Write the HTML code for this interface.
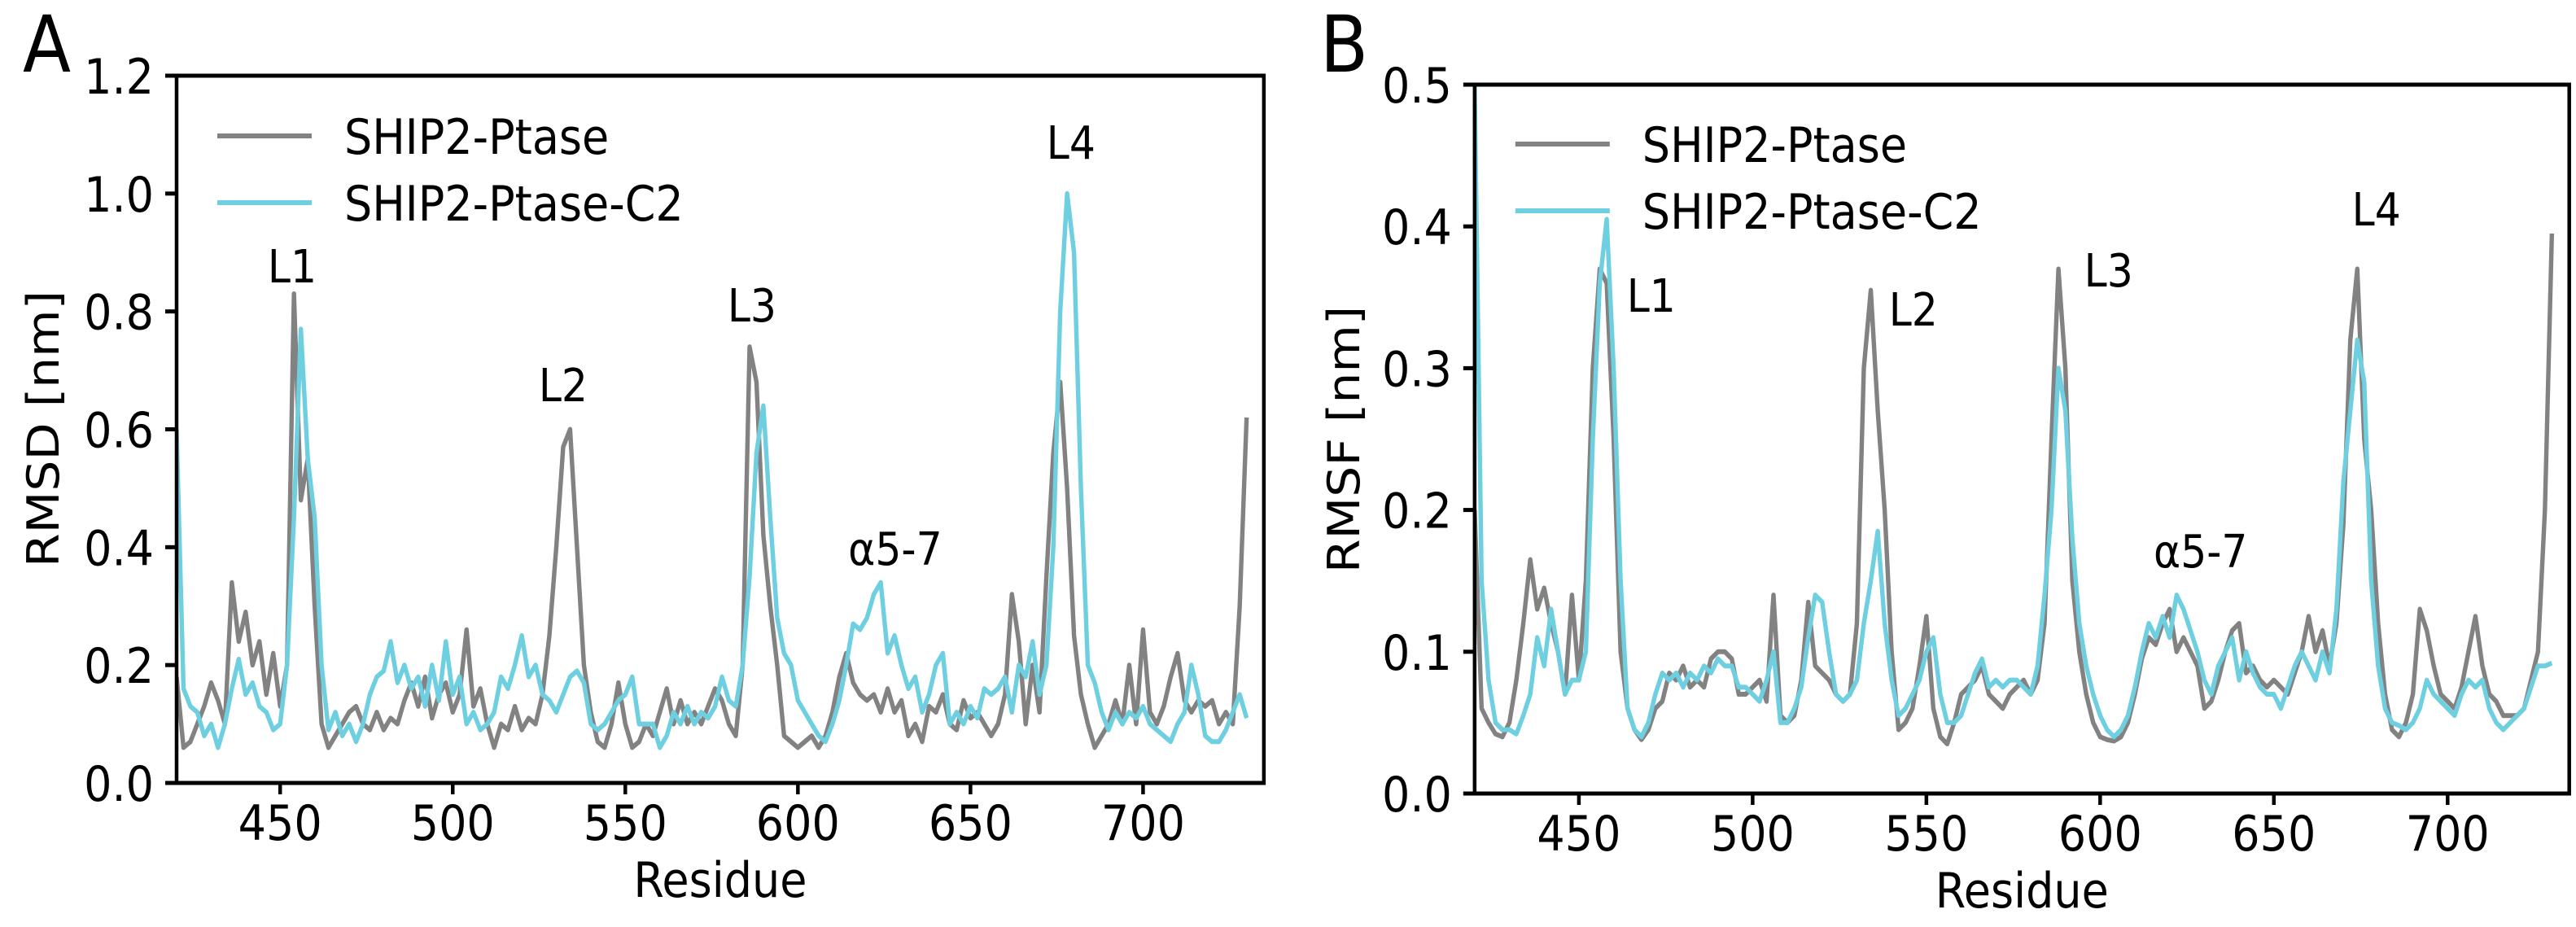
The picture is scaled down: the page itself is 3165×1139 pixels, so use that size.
<!DOCTYPE html>
<html><head><meta charset="utf-8"><style>
html,body{margin:0;padding:0;background:#fff;}
svg{display:block;}
text{font-family:"DejaVu Sans","Liberation Sans",sans-serif;fill:#000;}
</style></head>
<body>
<svg id="fig" width="3165" height="1139" viewBox="0 0 3517 1139" preserveAspectRatio="none" xmlns="http://www.w3.org/2000/svg"></svg>
<script>
const residues = [];
for (let r = 420; r <= 730; r += 2) residues.push(r);
const xTicks = [450, 500, 550, 600, 650, 700];
const xTickLabels = ["450", "500", "550", "600", "650", "700"];
const yTicksA = [0, 0.2, 0.4, 0.6, 0.8, 1.0, 1.2];
const yTickLabelsA = ["0.0", "0.2", "0.4", "0.6", "0.8", "1.0", "1.2"];
const yTicksB = [0, 0.1, 0.2, 0.3, 0.4, 0.5];
const yTickLabelsB = ["0.0", "0.1", "0.2", "0.3", "0.4", "0.5"];
const seriesNames = ["SHIP2-Ptase", "SHIP2-Ptase-C2"];

const rmsdPtase = [
0.18,0.06,0.07,0.10,0.13,0.17,0.14,0.10,0.34,0.24,
0.29,0.20,0.24,0.15,0.22,0.13,0.20,0.83,0.48,0.55,
0.30,0.10,0.06,0.08,0.10,0.12,0.13,0.10,0.09,0.12,
0.09,0.11,0.10,0.14,0.17,0.13,0.18,0.11,0.15,0.17,
0.12,0.15,0.26,0.13,0.16,0.10,0.06,0.10,0.09,0.13,
0.09,0.11,0.10,0.15,0.25,0.40,0.57,0.60,0.40,0.20,
0.12,0.07,0.06,0.10,0.17,0.10,0.06,0.07,0.10,0.08,
0.12,0.16,0.10,0.14,0.10,0.12,0.10,0.13,0.16,0.14,
0.10,0.08,0.20,0.74,0.68,0.42,0.30,0.20,0.08,0.07,
0.06,0.07,0.08,0.06,0.08,0.12,0.18,0.22,0.17,0.15,
0.14,0.15,0.12,0.16,0.12,0.14,0.08,0.10,0.07,0.13,
0.12,0.15,0.10,0.09,0.14,0.11,0.12,0.10,0.08,0.10,
0.15,0.32,0.24,0.10,0.20,0.12,0.35,0.56,0.68,0.50,
0.25,0.15,0.10,0.06,0.08,0.10,0.14,0.10,0.20,0.10,
0.26,0.12,0.10,0.13,0.18,0.22,0.14,0.12,0.14,0.13,
0.14,0.10,0.12,0.10,0.30,0.62];
const rmsdPtaseC2 = [
0.60,0.16,0.13,0.12,0.08,0.10,0.06,0.10,0.16,0.21,
0.15,0.17,0.13,0.12,0.09,0.10,0.20,0.45,0.77,0.55,
0.45,0.20,0.09,0.12,0.08,0.10,0.07,0.10,0.15,0.18,
0.19,0.24,0.17,0.20,0.16,0.18,0.13,0.20,0.14,0.24,
0.15,0.18,0.10,0.12,0.09,0.10,0.12,0.18,0.16,0.20,
0.25,0.18,0.20,0.15,0.14,0.12,0.15,0.18,0.19,0.17,
0.10,0.09,0.10,0.12,0.14,0.15,0.18,0.10,0.10,0.10,
0.06,0.08,0.12,0.10,0.13,0.10,0.12,0.11,0.13,0.18,
0.14,0.13,0.20,0.35,0.56,0.64,0.45,0.28,0.22,0.20,
0.14,0.12,0.10,0.08,0.07,0.10,0.14,0.20,0.27,0.26,
0.28,0.32,0.34,0.22,0.25,0.20,0.16,0.18,0.12,0.15,
0.20,0.22,0.10,0.12,0.10,0.13,0.11,0.16,0.15,0.16,
0.18,0.12,0.20,0.18,0.24,0.15,0.20,0.40,0.80,1.00,
0.90,0.50,0.20,0.17,0.12,0.09,0.12,0.10,0.12,0.11,
0.13,0.10,0.09,0.08,0.07,0.10,0.12,0.20,0.15,0.08,
0.07,0.07,0.09,0.12,0.15,0.11];
const rmsfPtase = [
0.20,0.06,0.05,0.042,0.04,0.05,0.08,0.12,0.165,0.13,
0.145,0.12,0.10,0.07,0.14,0.08,0.15,0.30,0.37,0.36,
0.25,0.10,0.06,0.045,0.038,0.045,0.06,0.065,0.085,0.08,
0.09,0.075,0.08,0.075,0.095,0.10,0.10,0.095,0.07,0.07,
0.075,0.08,0.065,0.14,0.055,0.05,0.055,0.08,0.135,0.09,
0.085,0.08,0.07,0.065,0.07,0.12,0.30,0.355,0.27,0.20,
0.10,0.045,0.05,0.06,0.09,0.125,0.06,0.04,0.035,0.05,
0.07,0.075,0.08,0.09,0.07,0.065,0.06,0.07,0.075,0.08,
0.07,0.08,0.12,0.25,0.37,0.30,0.15,0.10,0.07,0.05,
0.04,0.038,0.037,0.04,0.05,0.07,0.095,0.11,0.105,0.12,
0.13,0.10,0.11,0.10,0.09,0.06,0.065,0.08,0.10,0.115,
0.12,0.085,0.09,0.08,0.075,0.08,0.075,0.07,0.085,0.10,
0.125,0.10,0.115,0.09,0.12,0.19,0.32,0.37,0.25,0.20,
0.12,0.07,0.045,0.04,0.05,0.07,0.13,0.115,0.09,0.07,
0.065,0.06,0.075,0.10,0.125,0.09,0.07,0.065,0.055,0.055,
0.055,0.06,0.08,0.10,0.20,0.395];
const rmsfPtaseC2 = [
0.50,0.15,0.08,0.05,0.045,0.045,0.042,0.055,0.07,0.11,
0.09,0.13,0.10,0.07,0.08,0.08,0.10,0.25,0.36,0.405,
0.30,0.15,0.06,0.045,0.04,0.05,0.07,0.085,0.08,0.085,
0.075,0.085,0.08,0.09,0.085,0.095,0.09,0.09,0.075,0.075,
0.07,0.065,0.08,0.10,0.05,0.05,0.06,0.075,0.11,0.14,
0.135,0.10,0.07,0.065,0.07,0.08,0.12,0.15,0.185,0.12,
0.08,0.055,0.06,0.07,0.08,0.10,0.11,0.07,0.05,0.05,
0.055,0.07,0.085,0.095,0.075,0.08,0.075,0.08,0.08,0.075,
0.07,0.09,0.14,0.20,0.30,0.27,0.18,0.12,0.09,0.07,
0.055,0.045,0.04,0.045,0.055,0.075,0.10,0.12,0.11,0.125,
0.11,0.14,0.13,0.115,0.10,0.08,0.07,0.09,0.10,0.11,
0.08,0.10,0.085,0.075,0.07,0.07,0.06,0.075,0.09,0.10,
0.09,0.08,0.10,0.085,0.13,0.22,0.27,0.32,0.29,0.15,
0.09,0.06,0.05,0.048,0.045,0.05,0.06,0.08,0.07,0.065,
0.06,0.055,0.07,0.08,0.075,0.08,0.06,0.05,0.045,0.05,
0.055,0.06,0.075,0.09,0.09,0.092];

const SX = 0.9;
const NS = "http://www.w3.org/2000/svg";
const svg = document.getElementById('fig');
function el(tag, attrs, parent) {
  const e = document.createElementNS(NS, tag);
  for (const k in attrs) e.setAttribute(k, attrs[k]);
  (parent || svg).appendChild(e);
  return e;
}
function txt(str, x, y, size, anchor, parent) {
  const t = el('text', {x: x / SX, y: y, 'font-size': size, 'text-anchor': anchor || 'start'}, parent);
  t.textContent = str;
  return t;
}
const GRAY = "#828282", CYAN = "#6dcfdf";

function panel(cfg) {
  const g = el('g', {});
  
  
  const xs = v => (cfg.L + (v - 420) / (735 - 420) * (cfg.R - cfg.L)) / SX;
  const ys = v => cfg.B - v / cfg.ymax * (cfg.B - cfg.T);
  const clip = el('clipPath', {id: 'clip' + cfg.letter}, g);
  el('rect', {x: cfg.L / SX, y: cfg.T, width: (cfg.R - cfg.L) / SX, height: cfg.B - cfg.T}, clip);
  const sg = el('g', {'clip-path': 'url(#clip' + cfg.letter + ')'}, g);
  [[cfg.s1, GRAY, 'series-ship2-ptase'], [cfg.s2, CYAN, 'series-ship2-ptase-c2']].forEach(([d, c, nm]) => {
    const n = Math.min(d.length, residues.length);
    let p = '';
    for (let i = 0; i < n; i++) p += (i ? 'L' : 'M') + xs(residues[i]).toFixed(2) + ',' + ys(d[i]).toFixed(2);
    const path = el('path', {d: p, fill: 'none', stroke: c, 'stroke-width': 6, 'stroke-linejoin': 'round'}, sg);
    
    
  });
  const fr = el('rect', {x: cfg.L / SX, y: cfg.T, width: (cfg.R - cfg.L) / SX, height: cfg.B - cfg.T, fill: 'none', stroke: '#000', 'stroke-width': 5}, g);
  
  
  xTicks.forEach((v, i) => {
    el('line', {x1: xs(v), x2: xs(v), y1: cfg.B, y2: cfg.B + 14, stroke: '#000', 'stroke-width': 5}, g);
    const t = txt(xTickLabels[i], xs(v) * SX, cfg.B + 70, 60, 'middle', g);
    
    
  });
  cfg.yt.forEach((v, i) => {
    el('line', {x1: (cfg.L - 14) / SX, x2: cfg.L / SX, y1: ys(v), y2: ys(v), stroke: '#000', 'stroke-width': 5}, g);
    const t = txt(cfg.ytl[i], cfg.L - 28, ys(v) + 22, 60, 'end', g);
    
    
  });
  const xl = txt('Residue', (cfg.L + cfg.R) / 2, cfg.B + 140, 60, 'middle', g);
  
  
  const yl = el('text', {x: 0, y: 0, 'font-size': 60, 'text-anchor': 'middle', transform: 'translate(' + (cfg.ylx / SX) + ',' + cfg.yly + ') rotate(-90)'}, g);
  yl.textContent = cfg.ylabel;
  
  
  const pl = txt(cfg.letter, cfg.lx, cfg.ly, 96, 'start', g);
  
  
  [[GRAY, cfg.leg[1]], [CYAN, cfg.leg[2]]].forEach(([c, y], i) => {
    const lg = el('g', {}, g);
    
    
    el('line', {x1: cfg.leg[0] / SX, x2: (cfg.leg[0] + 116) / SX, y1: y, y2: y, stroke: c, 'stroke-width': 6}, lg);
    txt(seriesNames[i], cfg.leg[0] + 156, y + 22, 60, 'start', lg);
  });
  cfg.ann.forEach(a => {
    const t = txt(a[0], a[1], a[2], 56, 'middle', g);
    
    
  });
}

panel({name: 'panel-a-rmsd', letter: 'A', L: 217, R: 1553, T: 93, B: 962, ymax: 1.2,
  yt: yTicksA, ytl: yTickLabelsA, s1: rmsdPtase, s2: rmsdPtaseC2, ylabel: 'RMSD [nm]',
  ylx: 72, yly: 527, lx: 28, ly: 88, leg: [267, 167, 249],
  ann: [['L1', 359, 347], ['L2', 692, 493], ['L3', 924, 395], ['\u03b15-7', 1100, 694], ['L4', 1316, 195]]});
panel({name: 'panel-b-rmsf', letter: 'B', L: 1812, R: 3157, T: 104, B: 975, ymax: 0.5,
  yt: yTicksB, ytl: yTickLabelsB, s1: rmsfPtase, s2: rmsfPtaseC2, ylabel: 'RMSF [nm]',
  ylx: 1670, yly: 540, lx: 1622, ly: 88, leg: [1862, 177, 259],
  ann: [['L1', 2029, 383], ['L2', 2351, 400], ['L3', 2591, 352], ['\u03b15-7', 2704, 697], ['L4', 2920, 277]]});
</script>
</body></html>
